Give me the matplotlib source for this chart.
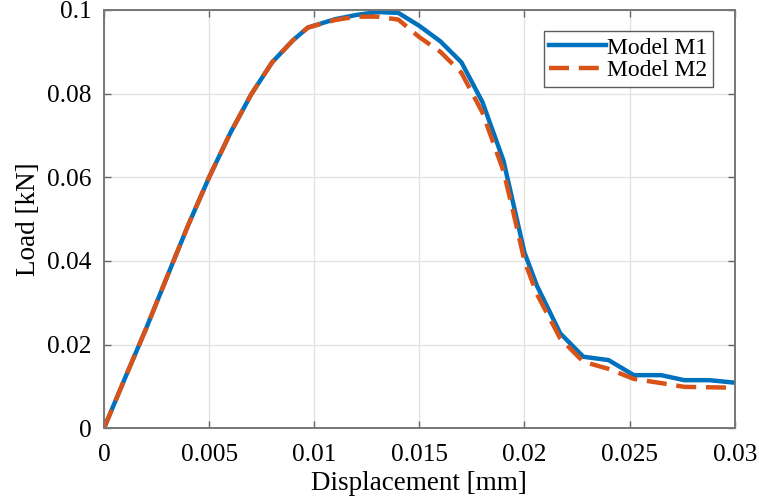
import matplotlib.pyplot as plt
from matplotlib.ticker import FuncFormatter

plt.rcParams['font.family'] = ['Liberation Serif', 'DejaVu Serif']

# load-displacement curves of the two models
disp = [0, 0.001, 0.002, 0.003, 0.004, 0.005, 0.006, 0.007, 0.008, 0.009,
        0.0097, 0.011, 0.012, 0.013, 0.014, 0.015, 0.016, 0.017, 0.018,
        0.019, 0.0195, 0.020, 0.0206, 0.0217, 0.0228, 0.024, 0.0252,
        0.0265, 0.0276, 0.0288, 0.030]
load_m1 = [0, 0.012, 0.0238, 0.0362, 0.0485, 0.060, 0.0705, 0.0798, 0.0875,
           0.0928, 0.0958, 0.0978, 0.0988, 0.0995, 0.0993, 0.0962, 0.0925,
           0.0875, 0.078, 0.064, 0.053, 0.042, 0.034, 0.0227, 0.0171,
           0.0163, 0.0127, 0.0127, 0.0115, 0.0115, 0.0109]
load_m2 = [0, 0.012, 0.0238, 0.0362, 0.0485, 0.060, 0.0705, 0.0798, 0.0875,
           0.0928, 0.0958, 0.0976, 0.0984, 0.0984, 0.0977, 0.0935, 0.0900,
           0.0850, 0.0755, 0.0615, 0.051, 0.040, 0.032, 0.0215, 0.0159,
           0.0142, 0.0118, 0.0108, 0.0099, 0.0098, 0.0097]

fig = plt.figure(figsize=(7.59, 4.98), dpi=100)
ax = fig.add_axes([0.137, 0.14, 0.831, 0.84])

ax.plot(disp, load_m1, color='#0072BD', lw=3.2, label='Model M1')
ax.plot(disp, load_m2, color='#D95319', lw=3.2, dashes=(4.5, 2.2),
        label='Model M2')

ax.set_xlim(0, 0.03)
ax.set_ylim(0, 0.1)
ax.set_xticks([0, 0.005, 0.01, 0.015, 0.02, 0.025, 0.03])
ax.set_yticks([0, 0.02, 0.04, 0.06, 0.08, 0.1])
fmt = FuncFormatter(lambda v, p: '%g' % round(v, 6))
ax.xaxis.set_major_formatter(fmt)
ax.yaxis.set_major_formatter(fmt)

ax.grid(True, color='#e3e3e3', lw=1)
ax.set_axisbelow(True)
ax.tick_params(direction='in', length=5, width=1, color='#666666',
               top=True, right=True, labelsize=18.3)
ax.tick_params(axis='x', pad=11)
ax.tick_params(axis='y', pad=9)
for s in ax.spines.values():
    s.set_color('#777777')
    s.set_linewidth(1.4)

ax.set_xlabel('Displacement [mm]', fontsize=19.5, labelpad=4)
ax.set_ylabel('Load [kN]', fontsize=19.5, labelpad=4)

leg = ax.legend(loc='upper right', fontsize=17, frameon=True, fancybox=False,
                handlelength=2.4, handletextpad=0.05, borderpad=0.25,
                labelspacing=0.05, borderaxespad=0.9)
leg.get_frame().set_edgecolor('#333333')
leg.get_frame().set_linewidth(1.0)

fig.savefig('out.png', dpi=100)
